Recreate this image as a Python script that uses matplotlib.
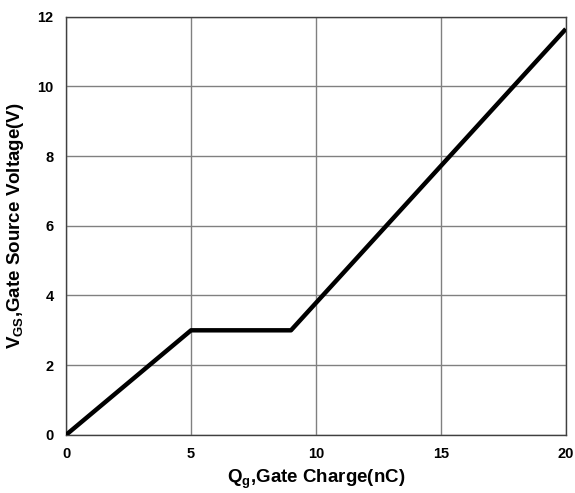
import matplotlib
matplotlib.use("Agg")
import matplotlib.pyplot as plt

plt.rcParams["font.family"] = ["Liberation Sans", "DejaVu Sans"]
plt.rcParams["font.weight"] = "bold"
plt.rcParams["mathtext.fontset"] = "custom"
plt.rcParams["mathtext.rm"] = "Liberation Sans:bold"
plt.rcParams["mathtext.it"] = "Liberation Sans:bold"
plt.rcParams["mathtext.bf"] = "Liberation Sans:bold"

# gate charge curve
qg = [0, 5, 9, 20]
vgs = [0, 3, 3, 11.65]
x_ticks = [0, 5, 10, 15, 20]
y_ticks = [0, 2, 4, 6, 8, 10, 12]

fig = plt.figure(figsize=(5.75, 4.93), dpi=100)
ax = fig.add_axes([0.115, 0.118, 0.869, 0.848])

ax.plot(qg, vgs, color="black", linewidth=3.2, solid_capstyle="butt", zorder=3)

ax.set_xlim(0, 20)
ax.set_ylim(0, 12)
ax.set_xticks(x_ticks)
ax.set_yticks(y_ticks)
ax.grid(True, color="#808080", linewidth=1.0)
for s in ax.spines.values():
    s.set_color("#404040")
    s.set_linewidth(1.0)
ax.tick_params(length=0, labelsize=10.5, pad=9)

ax.set_xlabel(r"Q$_\mathregular{g}$,Gate Charge(nC)", fontsize=13.5, fontweight="bold", labelpad=5)
ax.set_ylabel(r"V$_\mathregular{GS}$,Gate Source Voltage(V)", fontsize=13.5, fontweight="bold", labelpad=8)

plt.savefig("out.png", dpi=100)
